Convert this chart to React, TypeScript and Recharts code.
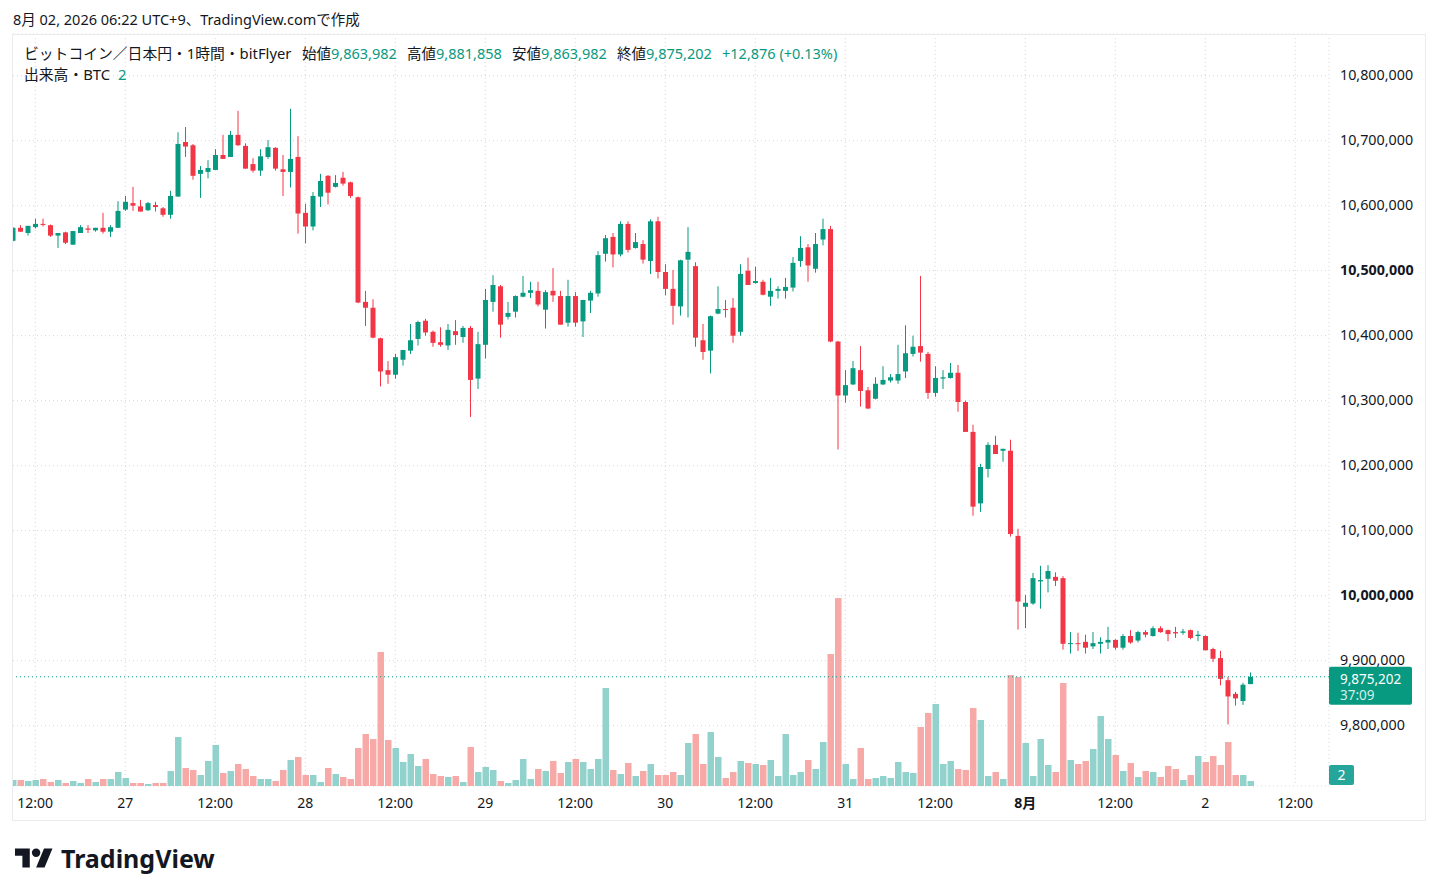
import React from 'react';
import { ComposedChart, Bar, XAxis, YAxis, CartesianGrid, ReferenceLine } from 'recharts';

// bitFlyer BTC/JPY, 1h candles, Jul 26 09:00 -> Aug 2 06:00 (UTC+9)
const opens = [
  10546000, 10566000, 10558000, 10567000, 10572000, 10570000, 10554000, 10559000, 10540000, 10558000,
  10565000, 10562000, 10566000, 10560000, 10566000, 10594000, 10604000, 10599000, 10593000, 10601000,
  10596000, 10586000, 10614000, 10698000, 10693000, 10649000, 10652000, 10655000, 10678000, 10675000,
  10709000, 10692000, 10664000, 10654000, 10675000, 10689000, 10656000, 10652000, 10675000, 10589000,
  10568000, 10614000, 10646000, 10629000, 10643000, 10636000, 10613000, 10452000, 10443000, 10396000,
  10347000, 10340000, 10363000, 10377000, 10395000, 10423000, 10406000, 10390000, 10385000, 10407000,
  10398000, 10412000, 10334000, 10386000, 10452000, 10476000, 10429000, 10437000, 10460000, 10466000,
  10469000, 10440000, 10469000, 10461000, 10420000, 10461000, 10422000, 10454000, 10465000, 10526000,
  10552000, 10525000, 10572000, 10535000, 10541000, 10515000, 10576000, 10498000, 10472000, 10445000,
  10517000, 10507000, 10393000, 10377000, 10434000, 10441000, 10443000, 10406000, 10500000, 10481000,
  10483000, 10460000, 10469000, 10469000, 10474000, 10515000, 10536000, 10503000, 10548000, 10564000,
  10391000, 10308000, 10325000, 10347000, 10316000, 10303000, 10325000, 10331000, 10331000, 10345000,
  10372000, 10384000, 10372000, 10312000, 10334000, 10335000, 10343000, 10298000, 10252000, 10142000,
  10195000, 10232000, 10223000, 10223000, 10092000, 9983000, 9988000, 10022000, 10026000, 10029000,
  10027000, 9926000, 9927000, 9929000, 9922000, 9926000, 9928000, 9932000, 9920000, 9938000,
  9931000, 9944000, 9938000, 9950000, 9947000, 9944000, 9943000, 9947000, 9938000, 9938000,
  9918000, 9904000, 9870000, 9849000, 9838000, 9863982,
];
const highs = [
  10567000, 10570000, 10569000, 10580000, 10580000, 10571000, 10558000, 10560000, 10561000, 10570000,
  10570000, 10566000, 10589000, 10570000, 10607000, 10615000, 10629000, 10609000, 10606000, 10606000,
  10598000, 10623000, 10713000, 10721000, 10695000, 10661000, 10670000, 10687000, 10709000, 10715000,
  10746000, 10696000, 10673000, 10687000, 10701000, 10690000, 10678000, 10749000, 10707000, 10603000,
  10621000, 10649000, 10647000, 10647000, 10652000, 10637000, 10614000, 10469000, 10456000, 10397000,
  10361000, 10372000, 10378000, 10418000, 10423000, 10426000, 10408000, 10413000, 10418000, 10424000,
  10415000, 10415000, 10406000, 10472000, 10493000, 10478000, 10452000, 10462000, 10492000, 10483000,
  10483000, 10470000, 10504000, 10469000, 10486000, 10467000, 10455000, 10469000, 10530000, 10555000,
  10558000, 10576000, 10576000, 10558000, 10547000, 10579000, 10583000, 10510000, 10501000, 10517000,
  10567000, 10513000, 10418000, 10431000, 10476000, 10455000, 10458000, 10510000, 10520000, 10506000,
  10486000, 10489000, 10476000, 10489000, 10521000, 10553000, 10541000, 10558000, 10580000, 10569000,
  10392000, 10347000, 10361000, 10384000, 10321000, 10336000, 10353000, 10341000, 10386000, 10416000,
  10400000, 10492000, 10375000, 10353000, 10347000, 10358000, 10355000, 10300000, 10263000, 10203000,
  10236000, 10246000, 10226000, 10240000, 10103000, 10001000, 10035000, 10046000, 10047000, 10036000,
  10030000, 9944000, 9943000, 9940000, 9944000, 9936000, 9952000, 9933000, 9941000, 9947000,
  9946000, 9947000, 9953000, 9953000, 9948000, 9952000, 9949000, 9948000, 9946000, 9939000,
  9920000, 9915000, 9875000, 9852000, 9866000, 9881858,
];
const lows = [
  10545000, 10560000, 10554000, 10565000, 10568000, 10552000, 10535000, 10541000, 10540000, 10558000,
  10558000, 10560000, 10557000, 10552000, 10566000, 10592000, 10592000, 10591000, 10592000, 10591000,
  10583000, 10580000, 10614000, 10675000, 10640000, 10612000, 10642000, 10655000, 10672000, 10675000,
  10692000, 10657000, 10651000, 10646000, 10672000, 10654000, 10615000, 10628000, 10557000, 10542000,
  10562000, 10598000, 10602000, 10628000, 10631000, 10612000, 10450000, 10415000, 10396000, 10322000,
  10326000, 10334000, 10354000, 10372000, 10385000, 10400000, 10383000, 10383000, 10378000, 10386000,
  10389000, 10275000, 10318000, 10365000, 10437000, 10397000, 10425000, 10428000, 10459000, 10458000,
  10445000, 10411000, 10452000, 10417000, 10414000, 10414000, 10398000, 10435000, 10460000, 10514000,
  10505000, 10522000, 10528000, 10534000, 10511000, 10495000, 10488000, 10462000, 10417000, 10431000,
  10428000, 10383000, 10363000, 10342000, 10433000, 10428000, 10389000, 10400000, 10478000, 10480000,
  10462000, 10446000, 10457000, 10457000, 10468000, 10506000, 10483000, 10497000, 10539000, 10390000,
  10225000, 10297000, 10324000, 10291000, 10287000, 10302000, 10324000, 10328000, 10326000, 10335000,
  10368000, 10360000, 10303000, 10306000, 10318000, 10334000, 10283000, 10252000, 10123000, 10129000,
  10182000, 10218000, 10206000, 10091000, 9948000, 9950000, 9986000, 9980000, 10005000, 10015000,
  9917000, 9911000, 9915000, 9911000, 9918000, 9911000, 9918000, 9917000, 9917000, 9926000,
  9928000, 9936000, 9937000, 9943000, 9930000, 9935000, 9940000, 9933000, 9930000, 9916000,
  9898000, 9862000, 9802000, 9831000, 9832000, 9863982,
];
const closes = [
  10566000, 10560000, 10569000, 10572000, 10571000, 10554000, 10558000, 10543000, 10561000, 10567000,
  10563000, 10566000, 10560000, 10567000, 10592000, 10606000, 10600000, 10591000, 10604000, 10598000,
  10586000, 10615000, 10695000, 10691000, 10646000, 10655000, 10658000, 10678000, 10672000, 10709000,
  10693000, 10657000, 10654000, 10676000, 10690000, 10657000, 10652000, 10672000, 10588000, 10568000,
  10615000, 10638000, 10620000, 10635000, 10634000, 10615000, 10451000, 10443000, 10397000, 10345000,
  10340000, 10367000, 10378000, 10393000, 10421000, 10405000, 10389000, 10386000, 10409000, 10401000,
  10412000, 10332000, 10387000, 10455000, 10478000, 10417000, 10435000, 10461000, 10466000, 10470000,
  10448000, 10467000, 10462000, 10417000, 10461000, 10420000, 10455000, 10466000, 10524000, 10550000,
  10525000, 10572000, 10532000, 10544000, 10517000, 10576000, 10498000, 10472000, 10446000, 10516000,
  10529000, 10397000, 10375000, 10430000, 10441000, 10440000, 10400000, 10495000, 10478000, 10484000,
  10463000, 10469000, 10472000, 10475000, 10512000, 10535000, 10508000, 10541000, 10564000, 10391000,
  10308000, 10324000, 10350000, 10315000, 10288000, 10326000, 10332000, 10336000, 10341000, 10373000,
  10383000, 10374000, 10312000, 10335000, 10336000, 10343000, 10298000, 10252000, 10137000, 10198000,
  10232000, 10218000, 10226000, 10095000, 9991000, 9989000, 10027000, 10024000, 10038000, 10023000,
  9926000, 9927000, 9926000, 9920000, 9927000, 9929000, 9932000, 9920000, 9938000, 9928000,
  9944000, 9940000, 9950000, 9944000, 9941000, 9942000, 9945000, 9935000, 9940000, 9916000,
  9903000, 9872000, 9845000, 9842000, 9863000, 9875202,
];
// BTC per hour
const volumes = [
  2.4, 2.4, 2.0, 2.4, 2.8, 1.6, 2.4, 1.2, 2.0, 1.2,
  2.8, 1.6, 2.8, 2.8, 5.6, 3.2, 1.2, 1.2, 0.8, 1.2,
  1.2, 6.0, 19.6, 7.2, 6.4, 4.4, 10.0, 16.4, 5.2, 6.0,
  8.8, 6.8, 4.0, 2.8, 2.8, 2.0, 6.4, 10.4, 11.6, 4.4,
  4.4, 1.6, 7.2, 4.8, 3.6, 2.8, 15.2, 20.8, 18.8, 53.6,
  18.4, 15.2, 9.6, 12.8, 8.0, 10.8, 4.8, 4.0, 3.6, 4.0,
  1.6, 15.6, 5.6, 7.6, 6.4, 2.0, 1.2, 2.4, 10.8, 2.8,
  6.8, 6.0, 10.0, 5.2, 9.6, 10.8, 9.6, 6.8, 10.8, 39.2,
  6.4, 4.8, 9.2, 4.0, 6.0, 8.8, 4.4, 4.4, 5.6, 4.4,
  17.2, 20.8, 8.8, 21.6, 11.6, 3.2, 5.6, 10.0, 9.2, 8.8,
  8.4, 10.4, 4.0, 20.8, 4.4, 5.6, 10.4, 6.8, 17.6, 52.8,
  75.2, 8.8, 2.8, 15.2, 2.8, 3.2, 4.0, 3.2, 9.6, 5.6,
  5.2, 23.6, 29.2, 32.8, 8.8, 10.0, 6.8, 6.4, 31.2, 26.4,
  4.0, 5.6, 2.8, 44.4, 43.6, 17.2, 4.0, 18.8, 8.4, 5.6,
  41.2, 10.4, 8.8, 10.0, 14.8, 28.0, 18.8, 12.4, 6.0, 9.2,
  3.6, 6.0, 5.6, 3.6, 8.0, 6.8, 2.4, 4.4, 12.0, 9.6,
  12.0, 8.4, 17.6, 4.4, 4.4, 2.0,
];

// hour slots (0 = Jul 26 09:00) that carry a time label
const timeTickSlots = [3, 15, 27, 39, 51, 63, 75, 87, 99, 111, 123, 135, 147, 159, 171];
const timeTickLabels = ['12:00', '27', '12:00', '28', '12:00', '29', '12:00', '30', '12:00', '31', '12:00', '8月', '12:00', '2', '12:00'];
const priceTicks = [9800000, 9900000, 10000000, 10100000, 10200000, 10300000, 10400000, 10500000, 10600000, 10700000, 10800000];

// legend of the last candle
const legendNames = ['始値', '高値', '安値', '終値'];
const legendValues = [opens[opens.length - 1], highs[highs.length - 1], lows[lows.length - 1], closes[closes.length - 1]];
const changeText = '+12,876 (+0.13%)';

const lastPrice = 9875202;
const lastVolume = 2;
const countdown = '37:09';

const UP = '#089981';
const DOWN = '#f23645';
const UP_VOL = '#92d2cc';
const DOWN_VOL = '#f7a9a7';
const TEXT = '#131722';
const GRID = '#d5d7dc';
const FONT = '"Noto Sans", "Noto Sans CJK JP", sans-serif';

const SLOTS = 176;
const PLOT_TOP = 34;
const PLOT_BOTTOM = 786;
const CHART_H = 830;
const PLOT_W = 1320;
const AXIS_W = 96.5;

// 100,000 yen per 65px; the 10,700,000 gridline sits at y = 140.7
const PX_PER_YEN = 65 / 100000;
const priceMax = 10700000 + (140.7 - PLOT_TOP) / PX_PER_YEN;
const priceMin = 10700000 - (PLOT_BOTTOM - 140.7) / PX_PER_YEN;
// 2.5px per BTC
const volMax = (PLOT_BOTTOM - PLOT_TOP) / 2.5;

const data = Array.from({ length: SLOTS }, (_, i) => {
  if (i >= opens.length) return { slot: i };
  return {
    slot: i,
    open: opens[i],
    high: highs[i],
    low: lows[i],
    close: closes[i],
    range: [lows[i], highs[i]],
    volume: volumes[i],
  };
});

const Candle = (props: any) => {
  const { x, y, width, height, payload } = props;
  if (!payload || payload.open == null) return null;
  const { open, close, high, low } = payload;
  const top = Math.min(y, y + height);
  const h = Math.abs(height);
  const span = high - low || 1;
  const py = (v: number) => top + ((high - v) / span) * h;
  const cx = x + width / 2;
  const color = close >= open ? UP : DOWN;
  const bodyTop = py(Math.max(open, close));
  const bodyBottom = py(Math.min(open, close));
  return (
    <g>
      <line x1={cx} x2={cx} y1={top} y2={top + h} stroke={color} strokeWidth={1} />
      <rect x={cx - 2.5} y={bodyTop} width={5} height={Math.max(bodyBottom - bodyTop, 1)} fill={color} />
    </g>
  );
};

const VolumeBar = (props: any) => {
  const { x, y, width, height, payload } = props;
  if (!payload || payload.volume == null) return null;
  return <rect x={x} y={y} width={width} height={height} fill={payload.close >= payload.open ? UP_VOL : DOWN_VOL} />;
};

const TimeTick = (props: any) => {
  const { x, y, payload } = props;
  const label = timeTickLabels[timeTickSlots.indexOf(payload.value)];
  return (
    <text x={x} y={y + 22} textAnchor="middle" fontSize={14} fontFamily={FONT} fill={TEXT} fontWeight={label === '8月' ? 700 : 400}>
      {label}
    </text>
  );
};

const PriceTick = (props: any) => {
  const { x, y, payload } = props;
  const v = payload.value as number;
  return (
    <text x={x + 11} y={y + 4} textAnchor="start" fontSize={14.3} fontFamily={FONT} fill={TEXT} fontWeight={v % 500000 === 0 ? 700 : 400}>
      {v.toLocaleString('en-US')}
    </text>
  );
};

const PriceTag = (props: any) => {
  const vb = props.viewBox || {};
  const right = (vb.x || 0) + (vb.width || 0);
  const y = vb.y || 0;
  return (
    <g>
      <rect x={right} y={y - 10} width={83} height={38} rx={2} fill={UP} />
      <text x={right + 11} y={y + 7} fontSize={13.5} fontFamily={FONT} fill="#ffffff">
        {lastPrice.toLocaleString('en-US')}
      </text>
      <text x={right + 11} y={y + 23} fontSize={13.5} fontFamily={FONT} fill="#d4eee9">
        {countdown}
      </text>
    </g>
  );
};

const VolumeTag = (props: any) => {
  const vb = props.viewBox || {};
  const right = (vb.x || 0) + (vb.width || 0);
  const top = Math.min((vb.y || 0) - 10, PLOT_BOTTOM - 21);
  return (
    <g>
      <rect x={right} y={top} width={25} height={20} rx={2} fill="#26a69a" />
      <text x={right + 12.5} y={top + 15} textAnchor="middle" fontSize={14} fontFamily={FONT} fill="#ffffff">
        {lastVolume}
      </text>
    </g>
  );
};

const TvLogo = () => (
  <svg style={{ position: 'absolute', left: 15, top: 844 }} width={38} height={30} viewBox="0 0 36 28">
    <path d="M14 22H7V11H0V4h14v18zM28 22h-8l7.5-18h8L28 22z" fill={TEXT} />
    <circle cx="20" cy="8" r="4" fill={TEXT} />
  </svg>
);

const legendRow = { position: 'absolute' as const, top: 44, lineHeight: '18px', whiteSpace: 'nowrap' as const };

export default function App() {
  return (
    <div style={{ position: 'absolute', left: 0, top: 0, width: 1438, height: 896, background: '#fff', fontFamily: FONT, color: TEXT, overflow: 'hidden' }}>
      <div style={{ position: 'absolute', left: 13, top: 10, fontSize: 14.5, lineHeight: '18px', whiteSpace: 'nowrap' }}>
        8月 02, 2026 06:22 UTC+9、TradingView.comで作成
      </div>

      <div style={{ position: 'absolute', left: 13, top: 0, width: 1412, height: CHART_H, overflow: 'hidden' }}>
        <div style={{ position: 'absolute', left: -4.5, top: 0 }}>
          <ComposedChart
            width={PLOT_W + AXIS_W}
            height={CHART_H}
            data={data}
            margin={{ top: PLOT_TOP, right: 0, bottom: 0, left: 0 }}
            barGap={0}
            barCategoryGap={0}
          >
            <CartesianGrid xAxisId="main" yAxisId="price" stroke={GRID} strokeDasharray="1 3" />
            <XAxis
              xAxisId="main"
              dataKey="slot"
              type="category"
              ticks={timeTickSlots}
              interval={0}
              axisLine={false}
              tickLine={false}
              tickSize={0}
              tickMargin={0}
              height={CHART_H - PLOT_BOTTOM}
              tick={<TimeTick />}
            />
            <XAxis xAxisId="vol" dataKey="slot" type="category" hide />
            <YAxis
              yAxisId="price"
              orientation="right"
              type="number"
              domain={[priceMin, priceMax]}
              ticks={priceTicks}
              interval={0}
              allowDataOverflow
              width={AXIS_W}
              axisLine={false}
              tickLine={false}
              tickSize={0}
              tickMargin={0}
              tick={<PriceTick />}
            />
            <YAxis yAxisId="vol" type="number" domain={[0, volMax]} allowDataOverflow hide />
            <Bar xAxisId="vol" yAxisId="vol" dataKey="volume" barSize={6.5} shape={<VolumeBar />} isAnimationActive={false} />
            <Bar xAxisId="main" yAxisId="price" dataKey="range" barSize={6} shape={<Candle />} isAnimationActive={false} />
            <ReferenceLine xAxisId="main" yAxisId="price" y={lastPrice} stroke={UP} strokeDasharray="1 3" label={<PriceTag />} />
            <ReferenceLine xAxisId="vol" yAxisId="vol" y={lastVolume} stroke="none" label={<VolumeTag />} />
          </ComposedChart>
        </div>
      </div>

      <div style={{ position: 'absolute', left: 12, top: 34, width: 1414, height: 787, border: '1px solid #e9ebef', boxSizing: 'border-box', pointerEvents: 'none' }} />

      <div style={{ ...legendRow, left: 24, fontSize: 14.8 }}>ビットコイン／日本円・1時間・bitFlyer</div>
      {legendNames.map((name, i) => (
        <div key={name} style={{ ...legendRow, left: 302 + i * 105, fontSize: 14.5 }}>
          <span>{name}</span>
          <span style={{ color: UP }}>{legendValues[i].toLocaleString('en-US')}</span>
        </div>
      ))}
      <div style={{ ...legendRow, left: 722, fontSize: 14.5, color: UP }}>{changeText}</div>
      <div style={{ ...legendRow, top: 65, left: 24, fontSize: 14.8 }}>
        <span>出来高・BTC</span>
        <span style={{ marginLeft: 8, color: UP }}>{lastVolume}</span>
      </div>

      <TvLogo />
      <div style={{ position: 'absolute', left: 61, top: 843, fontSize: 25, fontWeight: 700, lineHeight: '30px' }}>
        TradingView
      </div>
    </div>
  );
}
